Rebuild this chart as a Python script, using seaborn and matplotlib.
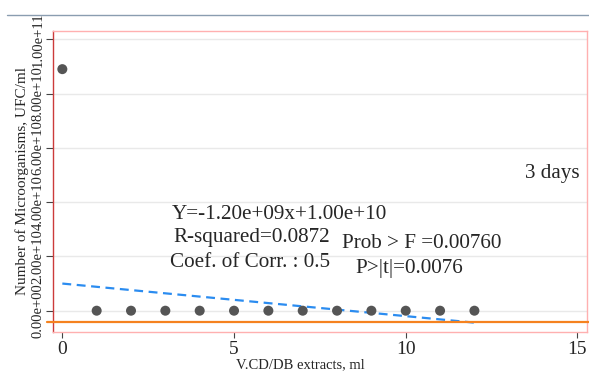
import numpy as np
import pandas as pd
import seaborn as sns
import matplotlib.pyplot as plt
from matplotlib.ticker import FormatStrFormatter
from matplotlib.lines import Line2D

# data
volume = [0, 1, 2, 3, 4, 5, 6, 7, 8, 9, 10, 11, 12]
counts = [8.9e10, 0, 0, 0, 0, 0, 0, 0, 0, 0, 0, 0, 0]
slope = -1.20e9
intercept = 1.00e10
fit_x = [0, 12]
ref_level = -4.2e9
y_ticks = [0, 2e10, 4e10, 6e10, 8e10, 1e11]
x_ticks = [0, 5, 10, 15]

df = pd.DataFrame({"x": volume, "y": counts})
fit = pd.DataFrame({"x": fit_x, "y": [intercept + slope * v for v in fit_x]})

sns.set_style("white")
plt.rcParams['font.family'] = ['Liberation Serif', 'DejaVu Serif']

fig = plt.figure(figsize=(5.89, 3.76), dpi=100)
ax = fig.add_axes([0.0895, 0.1178, 0.9066, 0.7998])

for t in y_ticks:
    ax.axhline(t, color="#e9e9e9", lw=1, zorder=0)

sns.scatterplot(data=df, x="x", y="y", color="#555555", s=52, edgecolor="none", ax=ax, zorder=3)
sns.lineplot(data=fit, x="x", y="y", color="#2b8cf0", lw=1.6, ax=ax, zorder=2)
ax.get_lines()[-1].set_linestyle((0, (4, 2.5)))
ax.axhline(ref_level, xmin=-0.01, xmax=1.01, color="#f5821f", lw=1.6, clip_on=False, zorder=4)

ax.set_xlim(-0.28, 15.27)
ax.set_ylim(-7.74e9, 1.0306e11)
ax.set_xticks(x_ticks)
ax.set_yticks(y_ticks)
ax.yaxis.set_major_formatter(FormatStrFormatter('%.2e'))

ax.tick_params(axis="y", direction="out", length=5, width=0.8, color="#444444",
               labelsize=10.5, pad=1, left=True)
ax.tick_params(axis="x", direction="out", length=4, width=0.8, color="#444444",
               labelsize=14, pad=3, bottom=True)
for lab in ax.get_yticklabels():
    lab.set_rotation(90)
    lab.set_va("center")

ax.set_xlabel("V.CD/DB extracts, ml", fontsize=10.5)
ax.xaxis.set_label_coords(0.463, -0.087)
ax.set_ylabel("Number of Microorganisms, UFC/ml", fontsize=11, labelpad=2)

for side in ["top", "right", "bottom"]:
    ax.spines[side].set_color("#ffb0b0")
    ax.spines[side].set_linewidth(1)
ax.spines["left"].set_color("#cc3b3b")
ax.spines["left"].set_linewidth(1)

fs = 15.2
ax.text(3.2, 3.53e10, "Y=-1.20e+09x+1.00e+10", fontsize=fs, va="center")
ax.text(3.23, 2.68e10, "R-squared=0.0872", fontsize=fs, va="center")
ax.text(3.14, 1.79e10, "Coef. of Corr. : 0.5", fontsize=fs, va="center")
ax.text(8.15, 2.49e10, "Prob > F =0.00760", fontsize=fs, va="center")
ax.text(8.53, 1.57e10, "P>|t|=0.0076", fontsize=fs, va="center")
ax.text(13.48, 5.07e10, "3 days", fontsize=fs, va="center")

fig.add_artist(Line2D([7 / 589, 1], [1 - 15 / 376, 1 - 15 / 376], color="#8a9db0", lw=1))

fig.savefig("out.png", dpi=100)
